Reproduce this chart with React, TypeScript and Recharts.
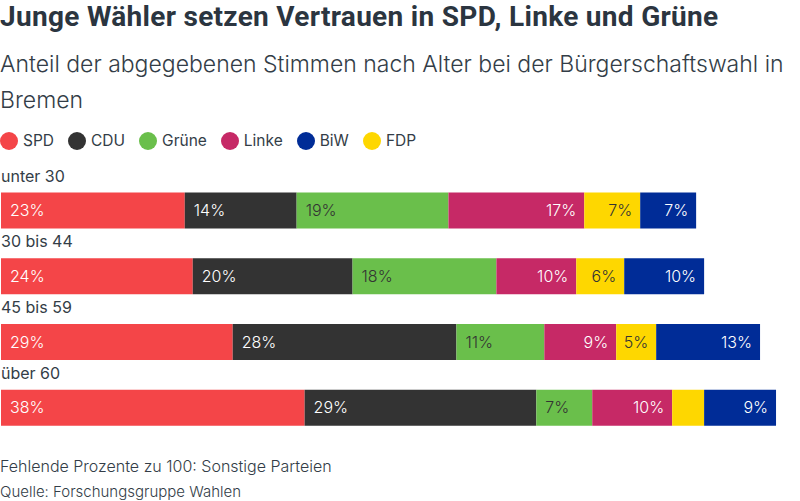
import { BarChart, Bar, XAxis, YAxis, LabelList } from "recharts";

const ageGroups = ["unter 30", "30 bis 44", "45 bis 59", "über 60"];
const spd = [23, 24, 29, 38];
const cdu = [14, 20, 28, 29];
const gruene = [19, 18, 11, 7];
const linke = [17, 10, 9, 10];
const fdp = [7, 6, 5, 4];
const biw = [7, 10, 13, 9];

// stack order left to right; legend uses its own order below
const series = [
  { key: "SPD", values: spd, color: "#f44548", align: "left", text: "#ffffff" },
  { key: "CDU", values: cdu, color: "#333333", align: "left", text: "#ffffff" },
  { key: "Grüne", values: gruene, color: "#6abf4b", align: "left", text: "#333333" },
  { key: "Linke", values: linke, color: "#c62966", align: "right", text: "#ffffff" },
  { key: "FDP", values: fdp, color: "#fed700", align: "right", text: "#333333" },
  { key: "BiW", values: biw, color: "#002c97", align: "right", text: "#ffffff" },
];
const legendOrder = ["SPD", "CDU", "Grüne", "Linke", "BiW", "FDP"];

const data = ageGroups.map((age, i) => {
  const row: Record<string, any> = { age };
  series.forEach(s => { row[s.key] = s.values[i]; });
  return row;
});

const FONT = "Inter, 'Noto Sans', sans-serif";

const makeLabel = (align: string, fill: string) => (props: any) => {
  const { x, y, width, height, value } = props;
  if (value < 5) return null;
  const left = align === "left";
  return (
    <text
      x={left ? x + 9 : x + width - 8}
      y={y + height / 2}
      dy="0.36em"
      textAnchor={left ? "start" : "end"}
      fill={fill}
      fontSize={16}
      fontWeight={300}
      fontFamily={FONT}
    >
      {value}%
    </text>
  );
};

// age group name above each bar
const AgeLabel = (props: any) => {
  const { y, value } = props;
  return (
    <text x={1} y={y - 11} fill="#333d47" fontSize={16} fontFamily={FONT}>
      {value}
    </text>
  );
};

export default function App() {
  return (
    <div style={{ position: "absolute", left: 0, top: 0, width: 800, height: 501, background: "#fff", fontFamily: FONT, color: "#333d47" }}>
      <div style={{ position: "absolute", left: 0, top: 0, fontFamily: "Roboto, sans-serif", fontWeight: 700, fontSize: 28, letterSpacing: 0.3, color: "#2b3540", whiteSpace: "nowrap" }}>
        Junge Wähler setzen Vertrauen in SPD, Linke und Grüne
      </div>
      <div style={{ position: "absolute", left: 0, top: 46, width: 795, fontSize: 23, lineHeight: "36px", fontWeight: 300 }}>
        Anteil der abgegebenen Stimmen nach Alter bei der Bürgerschaftswahl in Bremen
      </div>
      <div style={{ position: "absolute", left: 0, top: 131, display: "flex", alignItems: "center", fontSize: 15.5 }}>
        {legendOrder.map(k => {
          const s = series.find(x => x.key === k)!;
          return (
            <div key={k} style={{ display: "flex", alignItems: "center", marginRight: 14 }}>
              <span style={{ width: 18, height: 18, borderRadius: 9, background: s.color, display: "inline-block", marginRight: 5 }} />
              <span>{k}</span>
            </div>
          );
        })}
      </div>
      <div style={{ position: "absolute", left: 0, top: 150 }}>
        <BarChart
          width={800}
          height={300}
          data={data}
          layout="vertical"
          margin={{ top: 27.6, right: 0, bottom: 9.6, left: 1 }}
          barSize={36}
        >
          <XAxis type="number" domain={[0, 100]} hide />
          <YAxis type="category" dataKey="age" hide />
          {series.map((s, i) => (
            <Bar key={s.key} dataKey={s.key} stackId="a" fill={s.color} isAnimationActive={false}>
              <LabelList dataKey={s.key} content={makeLabel(s.align, s.text)} />
              {i === 0 && <LabelList dataKey="age" content={<AgeLabel />} />}
            </Bar>
          ))}
        </BarChart>
      </div>
      <div style={{ position: "absolute", left: 0, top: 456, fontSize: 16, fontWeight: 300 }}>
        Fehlende Prozente zu 100: Sonstige Parteien
      </div>
      <div style={{ position: "absolute", left: 0, top: 482, fontSize: 15, fontWeight: 300 }}>
        Quelle: Forschungsgruppe Wahlen
      </div>
    </div>
  );
}
